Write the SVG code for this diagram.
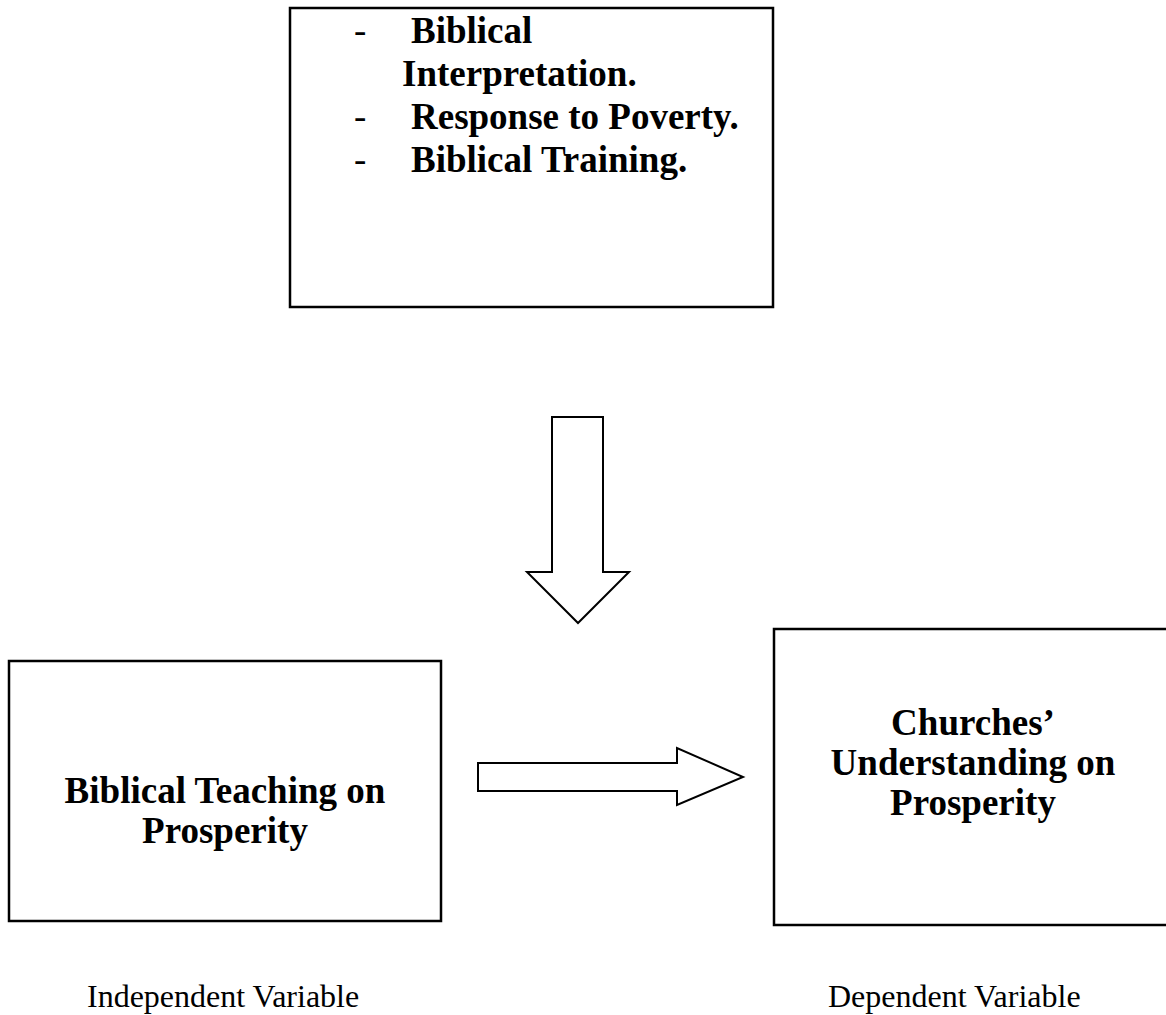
<svg xmlns="http://www.w3.org/2000/svg" width="1166" height="1015" viewBox="0 0 1166 1015">
<style>
.box{fill:#fff;stroke:#000;stroke-width:2.5}
.arrow{fill:#fff;stroke:#000;stroke-width:2;stroke-linejoin:miter}
.b{font-family:"Liberation Serif","Times New Roman",serif;font-weight:bold;font-size:37px;fill:#000}
.r{font-family:"Liberation Serif","Times New Roman",serif;font-size:32px;fill:#000}
.h{font-family:"Liberation Serif","Times New Roman",serif;font-size:37px;fill:#000}
</style>
<rect width="1166" height="1015" fill="#fff"/>
<g id="moderators">
<rect class="box" x="290" y="8" width="483" height="299"/>
<text class="h" x="354" y="43">-</text>
<text class="b" x="411" y="43">Biblical</text>
<text class="b" x="402" y="86">Interpretation.</text>
<text class="h" x="354" y="129">-</text>
<text class="b" x="411" y="129">Response to Poverty.</text>
<text class="h" x="354" y="172">-</text>
<text class="b" x="411" y="172">Biblical Training.</text>
</g>
<g id="independent">
<rect class="box" x="9" y="661" width="432" height="260"/>
<text class="b" x="225" y="803" text-anchor="middle">Biblical Teaching on</text>
<text class="b" x="225" y="843" text-anchor="middle">Prosperity</text>
</g>
<g id="dependent">
<rect class="box" x="774" y="629" width="398" height="296"/>
<text class="b" x="973" y="735" text-anchor="middle">Churches’</text>
<text class="b" x="973" y="775" text-anchor="middle">Understanding on</text>
<text class="b" x="973" y="815" text-anchor="middle">Prosperity</text>
</g>
<g id="connectors">
<polygon class="arrow" points="552,417 603,417 603,572 629,572 578,623 527,572 552,572"/>
<polygon class="arrow" points="478,763 677,763 677,748 743,777 677,805 677,791 478,791"/>
</g>
<g id="labels">
<text class="r" x="87" y="1007">Independent Variable</text>
<text class="r" x="828" y="1007">Dependent Variable</text>
</g>
</svg>
